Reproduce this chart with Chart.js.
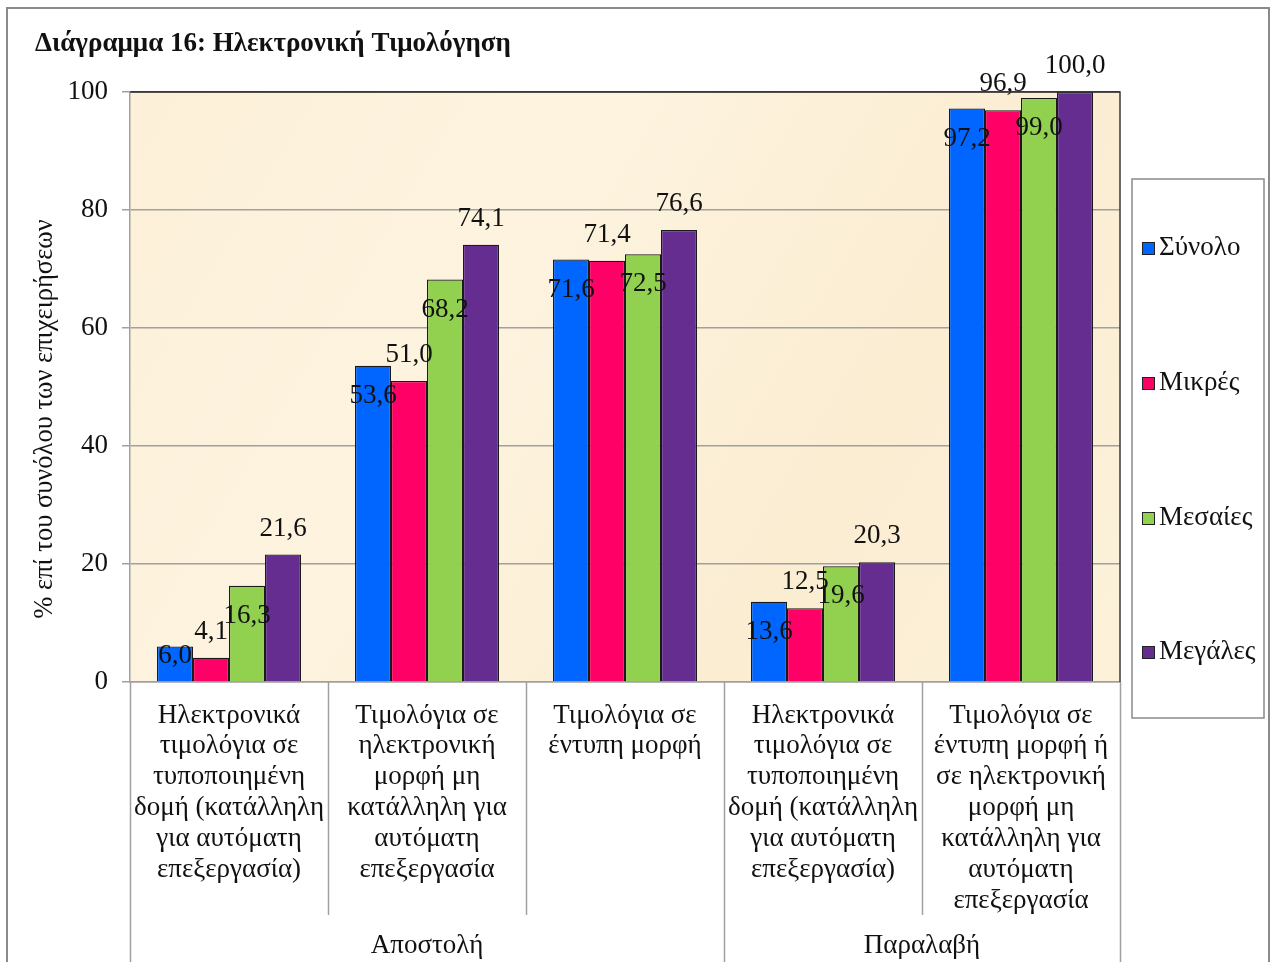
<!DOCTYPE html>
<html>
<head>
<meta charset="utf-8">
<script src="https://cdn.jsdelivr.net/npm/chart.js@4.4.1/dist/chart.umd.min.js"></script>
<style>
  html, body { margin: 0; padding: 0; background: #ffffff; }
  #wrap { width: 1272px; height: 962px; }
</style>
</head>
<body>
<div id="wrap"><canvas id="c" width="1272" height="962"></canvas></div>
<script>
// ---------- DATA ----------
const chartTitle = "Διάγραμμα 16: Ηλεκτρονική Τιμολόγηση";
const yAxisTitle = "% επί του συνόλου των επιχειρήσεων";
const categories = [
  ["Ηλεκτρονικά", "τιμολόγια σε", "τυποποιημένη", "δομή (κατάλληλη", "για αυτόματη", "επεξεργασία)"],
  ["Τιμολόγια σε", "ηλεκτρονική", "μορφή μη", "κατάλληλη για", "αυτόματη", "επεξεργασία"],
  ["Τιμολόγια σε", "έντυπη μορφή"],
  ["Ηλεκτρονικά", "τιμολόγια σε", "τυποποιημένη", "δομή (κατάλληλη", "για αυτόματη", "επεξεργασία)"],
  ["Τιμολόγια σε", "έντυπη μορφή ή", "σε ηλεκτρονική", "μορφή μη", "κατάλληλη για", "αυτόματη", "επεξεργασία"]
];
const groupLabels = ["Αποστολή", "Παραλαβή"];
const groupSpans = [3, 2];
const seriesNames = ["Σύνολο", "Μικρές", "Μεσαίες", "Μεγάλες"];
const synolo  = [6.0, 53.6, 71.6, 13.6, 97.2];
const mikres  = [4.1, 51.0, 71.4, 12.5, 96.9];
const mesaies = [16.3, 68.2, 72.5, 19.6, 99.0];
const megales = [21.6, 74.1, 76.6, 20.3, 100.0];
const yTicks = [0, 20, 40, 60, 80, 100];

// ---------- STYLE ----------
const colors = ["#0066FF", "#FF0066", "#92D050", "#662D91"];
const labelInside = [true, false, true, false];
const FONT = "'Liberation Serif', 'Times New Roman', serif";
const FS = 27;

const seriesValues = [synolo, mikres, mesaies, megales];

const customPlugin = {
  id: 'custom',
  beforeDraw(chart) {
    const ctx = chart.ctx;
    const a = chart.chartArea;
    ctx.save();
    ctx.fillStyle = '#ffffff';
    ctx.fillRect(0, 0, chart.width, chart.height);
    ctx.strokeStyle = '#8a8a8a';
    ctx.lineWidth = 2;
    ctx.strokeRect(7, 8, 1262, 1000);
    const g = ctx.createLinearGradient(a.left, a.top, a.right, a.bottom);
    g.addColorStop(0, '#FCF0D8');
    g.addColorStop(0.35, '#FDF3DF');
    g.addColorStop(0.7, '#FBEDD2');
    g.addColorStop(1, '#FCF1DA');
    ctx.fillStyle = g;
    ctx.fillRect(a.left, a.top, a.right - a.left, a.bottom - a.top);
    ctx.restore();
  },
  afterDatasetsDraw(chart) {
    const ctx = chart.ctx;
    ctx.save();
    ctx.font = FS + "px " + FONT;
    ctx.fillStyle = '#111';
    ctx.textAlign = 'center';
    ctx.textBaseline = 'middle';
    chart.data.datasets.forEach((ds, di) => {
      const meta = chart.getDatasetMeta(di);
      meta.data.forEach((el, i) => {
        const v = ds.data[i];
        const txt = v.toFixed(1).replace('.', ',');
        let cy;
        if (labelInside[di]) {
          cy = Math.min(el.y + 30, el.base - 25);
        } else {
          cy = el.y - 26;
        }
        ctx.fillText(txt, el.x, cy);
      });
    });
    ctx.restore();
  },
  afterDraw(chart) {
    const ctx = chart.ctx;
    const a = chart.chartArea;
    const xs = chart.scales.x;
    ctx.save();
    ctx.strokeStyle = '#3a3a3a';
    ctx.lineWidth = 1.5;
    ctx.beginPath();
    ctx.moveTo(a.left, a.top);
    ctx.lineTo(a.right, a.top);
    ctx.lineTo(a.right, a.bottom);
    ctx.stroke();

    const cw = xs.getPixelForValue(1) - xs.getPixelForValue(0);
    const groupBounds = [0];
    groupSpans.forEach(s => groupBounds.push(groupBounds[groupBounds.length - 1] + s));
    ctx.strokeStyle = '#a0a0a0';
    ctx.lineWidth = 1.5;
    for (let i = 0; i <= categories.length; i++) {
      const x = Math.round(xs.getPixelForValue(0) - cw / 2 + i * cw) + 0.5;
      const isGroup = groupBounds.includes(i);
      ctx.beginPath();
      ctx.moveTo(x, a.bottom);
      ctx.lineTo(x, isGroup ? chart.height : 915);
      ctx.stroke();
    }
    ctx.font = FS + "px " + FONT;
    ctx.fillStyle = '#111';
    ctx.textAlign = 'center';
    ctx.textBaseline = 'middle';
    for (let gi = 0; gi < groupLabels.length; gi++) {
      const x0 = xs.getPixelForValue(0) - cw / 2 + groupBounds[gi] * cw;
      const x1 = xs.getPixelForValue(0) - cw / 2 + groupBounds[gi + 1] * cw;
      ctx.fillText(groupLabels[gi], (x0 + x1) / 2, 946);
    }

    ctx.save();
    ctx.translate(45, 419);
    ctx.rotate(-Math.PI / 2);
    ctx.font = "26.5px " + FONT;
    ctx.fillText(yAxisTitle, 0, 0);
    ctx.restore();

    ctx.font = "bold 27px " + FONT;
    ctx.textAlign = 'left';
    ctx.fillText(chartTitle, 35, 44);

    const lx = 1132, ly = 179, lw = 132, lh = 539;
    ctx.strokeStyle = '#8a8a8a';
    ctx.lineWidth = 1.5;
    ctx.fillStyle = '#ffffff';
    ctx.fillRect(lx, ly, lw, lh);
    ctx.strokeRect(lx, ly, lw, lh);
    const itemY = [248, 383, 518, 652];
    chart.data.datasets.forEach((ds, di) => {
      const y = itemY[di];
      ctx.fillStyle = ds.backgroundColor;
      ctx.fillRect(1142, y - 6, 12, 12);
      ctx.strokeStyle = '#222';
      ctx.lineWidth = 1;
      ctx.strokeRect(1142.5, y - 5.5, 12, 12);
      ctx.fillStyle = '#111';
      ctx.textAlign = 'left';
      ctx.font = FS + "px " + FONT;
      ctx.fillText(ds.label, 1159, y);
    });
    ctx.restore();
  }
};

new Chart(document.getElementById('c'), {
  type: 'bar',
  data: {
    labels: categories,
    datasets: seriesNames.map((n, i) => ({
      label: n,
      data: seriesValues[i],
      backgroundColor: colors[i],
      borderColor: '#1a1a1a',
      borderWidth: 1.2,
      categoryPercentage: 144 / 198,
      barPercentage: 1.0
    }))
  },
  options: {
    responsive: false,
    animation: false,
    devicePixelRatio: 1,
    layout: { padding: { left: 0, right: 152, top: 92, bottom: 0 } },
    plugins: {
      legend: { display: false },
      title: { display: false },
      tooltip: { enabled: false }
    },
    scales: {
      x: {
        afterFit(scale) { scale.height = 280; },
        grid: { display: false, drawTicks: false },
        border: { display: true, color: '#a0a0a0', width: 1.5 },
        ticks: {
          autoSkip: false, maxRotation: 0, minRotation: 0,
          padding: 18,
          color: '#111',
          font: { family: FONT, size: FS, lineHeight: 1.145 }
        }
      },
      y: {
        min: 0, max: 100,
        afterFit(scale) { scale.width = 130; },
        afterBuildTicks(scale) { scale.ticks = yTicks.map(v => ({ value: v })); },
        grid: {
          color: (c) => (c.tick && c.tick.value === 100) ? '#3a3a3a' : '#a0a0a0',
          lineWidth: 1.5,
          drawTicks: true,
          tickLength: 8,
          tickColor: '#a0a0a0'
        },
        border: { display: true, color: '#a0a0a0', width: 1.5 },
        ticks: {
          padding: 14,
          color: '#111',
          font: { family: FONT, size: FS }
        }
      }
    }
  },
  plugins: [customPlugin]
});
</script>
</body>
</html>
